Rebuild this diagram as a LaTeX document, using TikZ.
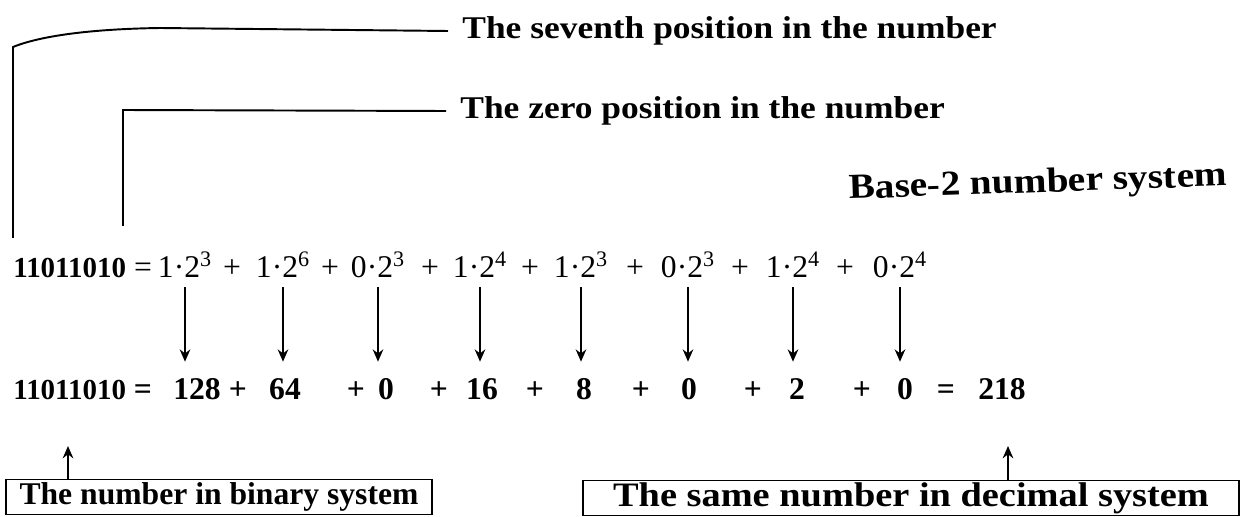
\documentclass[tikz,border=0pt]{standalone}
\usepackage{fontspec}
\setmainfont{Liberation Serif}
\newfontfamily\widefont[FakeStretch=1.12]{Liberation Serif}
\usetikzlibrary{arrows.meta,positioning,calc}
\tikzset{
  >={Stealth[length=7pt,width=6pt]},
  lead/.style={draw,line width=1.1pt},
  note/.style={font=\widefont\bfseries\fontsize{18}{18}\selectfont,inner xsep=8pt,inner ysep=0pt,anchor=west},
  num/.style={font=\fontsize{18}{18}\selectfont,inner sep=0pt,text height=13pt,text depth=4pt},
  bnum/.style={num,font=\bfseries\fontsize{18}{18}\selectfont},
  word/.style={num,font=\bfseries\fontsize{16.5}{16.5}\selectfont,anchor=west},
  tag/.style={draw,line width=1.1pt,font=\bfseries\fontsize{18}{18}\selectfont,minimum height=0.7cm,inner sep=0pt}
}
\begin{document}
\begin{tikzpicture}[x=0.02cm,y=-0.02cm]
\useasboundingbox (0,0) rectangle (1242,517);
% position notes
\node[note](seventh) at (448,31){The seventh position in the number};
\node[note](zero) at (446,111){The zero position in the number};
\node[note,anchor=center,rotate=2,font=\widefont\bfseries\fontsize{20}{20}\selectfont](base) at (1038,184){Base-2 number system};
\coordinate (end7) at (13,238);
\coordinate (end0) at (123,226);
\draw[lead](seventh.west) -- (160,28) .. controls (90,29) and (40,36) .. (13,47) -- (end7);
\draw[lead](zero.west) -- (123,110) -- (end0);
% first row
\node[word](bin1) at (13,270){11011010};
\node[num](eq1) at (143,270){=};
\foreach \x/\c/\e [count=\i] in {185/1/3,283/1/6,378/0/3,480/1/4,581/1/3,688/0/3,793/1/4,900/0/4}
  \node[num](t\i) at (\x,270){\c·2\textsuperscript{\e}};
\foreach \x [count=\i] in {232,330,430,530,635,740,845}
  \node[num](pa\i) at (\x,270){+};
% second row
\node[word](bin2) at (13,392){11011010};
\node[bnum](eq2) at (143,392){=};
\foreach \x/\v [count=\i] in {197/128,285/64,386/0,482/16,584/8,689/0,797/2,905/0}
  \node[bnum](d\i) at (\x,392){\v};
\foreach \x [count=\i] in {238,356,439,535,641,753,862}
  \node[bnum](pb\i) at (\x,392){+};
\node[bnum](eq3) at (946,392){=};
\node[bnum](dec) at (1002,392){218};
\foreach \i in {1,...,8}
  \draw[->,line width=1.1pt,shorten >=0.3cm]([yshift=-1pt]t\i.south) -- (t\i.south |- d\i.north);
% boxes
\node[tag,minimum width=8.52cm](binbox) at (219,497){The number in binary system};
\node[tag,minimum width=13.14cm,font=\widefont\bfseries\fontsize{19.5}{19.5}\selectfont](decbox) at (911,498){The same number in decimal system};
\coordinate (up1) at (68,446);
\coordinate (up2) at (1008,446);
\draw[->,line width=1.1pt](up1 |- binbox.north) -- (up1);
\draw[->,line width=1.1pt](up2 |- decbox.north) -- (up2);
\end{tikzpicture}
\end{document}
